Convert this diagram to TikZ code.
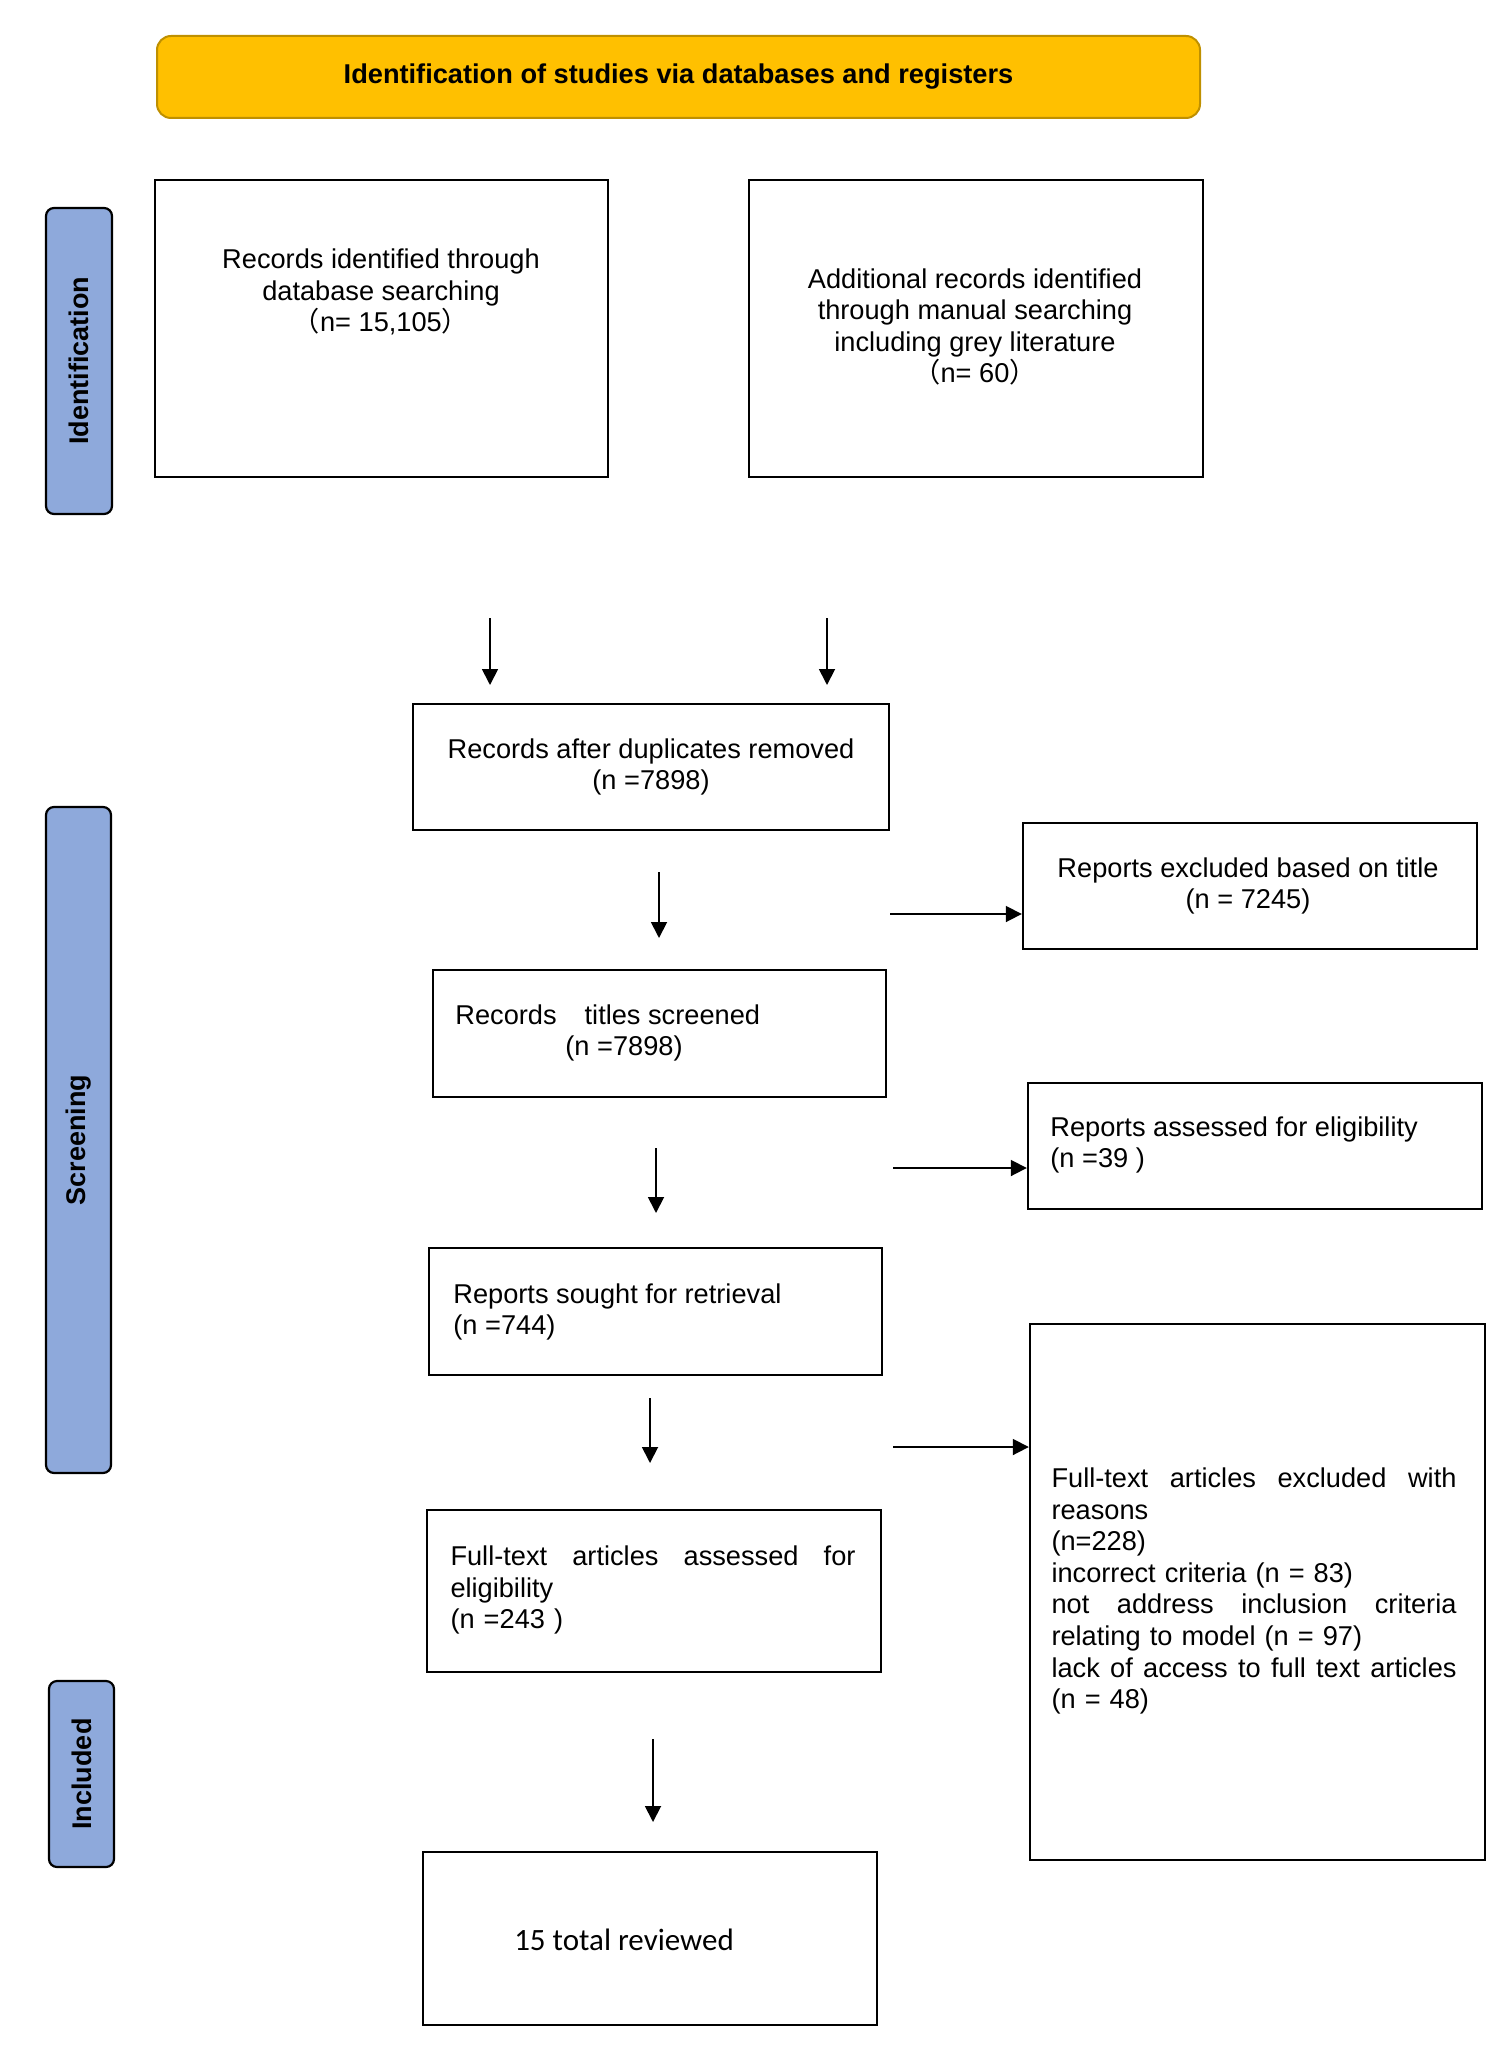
\documentclass[tikz,border=0pt]{standalone}
\usepackage{fontspec}
\setmainfont{Liberation Sans}
\newfontfamily\cjkfont{Noto Sans CJK SC}
\newfontfamily\calibrifont{Carlito}
\usetikzlibrary{arrows.meta,positioning}
\definecolor{hdrfill}{HTML}{FFC000}
\definecolor{hdrdraw}{HTML}{BF9000}
\definecolor{sidefill}{HTML}{8EA9DB}
\tikzset{
  x=0.5pt, y=-0.5pt,
  every node/.style={font=\fontsize{13.6pt}{15.8pt}\selectfont, inner sep=0pt},
  flowbox/.style={draw=black, line width=1.2pt, fill=white, rectangle},
  header/.style={draw=hdrdraw, line width=1pt, fill=hdrfill, rounded corners=7pt, font=\fontsize{13.6pt}{15.8pt}\selectfont\bfseries},
  sidelabel/.style={draw=black, line width=1.1pt, fill=sidefill, rounded corners=4pt, font=\fontsize{13.5pt}{15.8pt}\selectfont\bfseries},
  arr/.style={-{Triangle[length=8pt,width=8pt]}, line width=0.9pt},
}
\newcommand{\fw}[1]{{\cjkfont #1}}
\newcommand{\jline}[1]{\leavevmode\hbox to 202.5pt{#1}}
\begin{document}
\begin{tikzpicture}
\useasboundingbox (0,0) rectangle (1500,2064);

% header
\node[header, minimum width=521.5pt, minimum height=41pt] (hdr) at (678.5,77) {Identification of studies via databases and registers};

% side labels
\node[sidelabel, minimum width=33pt, minimum height=153pt] (lid) at (79,361) {};
\node[rotate=90, font=\fontsize{13.5pt}{15.8pt}\selectfont\bfseries] (lidt) at (lid.center) {Identification};
\node[sidelabel, minimum width=32.5pt, minimum height=333pt] (lsc) at (78.5,1140) {};
\node[rotate=90, font=\fontsize{13.5pt}{15.8pt}\selectfont\bfseries] (lsct) at (lsc.center) {Screening};
\node[sidelabel, minimum width=32.5pt, minimum height=93pt] (lin) at (81.5,1774) {};
\node[rotate=90, font=\fontsize{13.5pt}{15.8pt}\selectfont\bfseries] (lint) at (lin.center) {Included};

% identification boxes
\node[flowbox, minimum width=226.5pt, minimum height=148.5pt] (b1) at (381.5,328.5) {};
\node[align=center] (b1t) at (381,292) {Records identified through\\database searching\\\fw{（}n= 15,105\fw{）}};
\node[flowbox, minimum width=227pt, minimum height=148.5pt] (b2) at (976,328.5) {};
\node[align=center] (b2t) at (975,327) {Additional records identified\\through manual searching\\including grey literature\\\fw{（}n= 60\fw{）}};

% screening boxes
\node[flowbox, minimum width=238pt, minimum height=63pt] (b3) at (651,767) {};
\node[align=center] (b3t) at (651,767) {Records after duplicates removed\\(n =7898)};

\node[flowbox, minimum width=227pt, minimum height=63pt] (e1) at (1250,886) {};
\node[align=center] (e1t) at (1248,886) {Reports excluded based on title\\(n = 7245)};

\node[flowbox, minimum width=226.5pt, minimum height=63.5pt] (b4) at (659.5,1033.5) {};
\node[align=left, anchor=west] (b4t) at (455,1033) {Records\hspace{14pt}titles screened\\\hspace{55pt}(n =7898)};

\node[flowbox, minimum width=227pt, minimum height=63pt] (e2) at (1255,1146) {};
\node[align=left, anchor=west] (e2t) at (1050,1145) {Reports assessed for eligibility\\(n =39 )};

\node[flowbox, minimum width=226.5pt, minimum height=63.5pt] (b5) at (655.5,1311.5) {};
\node[align=left, anchor=west] (b5t) at (453,1312) {Reports sought for retrieval\\(n =744)};

\node[flowbox, minimum width=227.5pt, minimum height=268pt] (e3) at (1257.5,1592) {};
\node[text width=202.5pt, align=left] (e3t) at (1254,1591) {\jline{Full-text\hfill articles\hfill excluded\hfill with}\\reasons\\(n=228)\\incorrect criteria (n = 83)\\\jline{not\hfill address\hfill inclusion\hfill criteria}\\relating to model (n = 97)\\\jline{lack\hfill of\hfill access\hfill to\hfill full\hfill text\hfill articles}\\(n = 48)};

\node[flowbox, minimum width=227pt, minimum height=81pt] (b6) at (654,1591) {};
\node[text width=202.5pt, align=left] (b6t) at (653,1590) {\jline{Full-text\hfill articles\hfill assessed\hfill for}\\eligibility\\(n =243 )};

% included
\node[flowbox, minimum width=227pt, minimum height=86.5pt] (b7) at (650,1938.5) {};
\node[font=\fontsize{15.5pt}{18pt}\selectfont\calibrifont] (b7t) at (624,1940) {15 total reviewed};

% arrow coordinates
\coordinate (a1s) at (490,618); \coordinate (a1e) at (490,685);
\coordinate (a2s) at (827,618); \coordinate (a2e) at (827,685);
\coordinate (a3s) at (659,872); \coordinate (a3e) at (659,938);
\coordinate (a4s) at (656,1148); \coordinate (a4e) at (656,1213);
\coordinate (a5s) at (650,1398); \coordinate (a5e) at (650,1463);
\coordinate (a6s) at (653,1739); \coordinate (a6e) at (653,1822);
\coordinate (r1s) at (890,914);
\coordinate (r2s) at (893,1168);
\coordinate (r3s) at (893,1447);

\draw[arr] (a1s) -- (a1e);
\draw[arr] (a2s) -- (a2e);
\draw[arr] (a3s) -- (a3e);
\draw[arr] (a4s) -- (a4e);
\draw[arr] (a5s) -- (a5e);
\draw[arr] (a6s) -- (a6e);
\draw[arr] (r1s) -- (e1.west |- r1s);
\draw[arr] (r2s) -- (e2.west |- r2s);
\draw[arr] (r3s) -- (e3.west |- r3s);
\end{tikzpicture}
\end{document}
